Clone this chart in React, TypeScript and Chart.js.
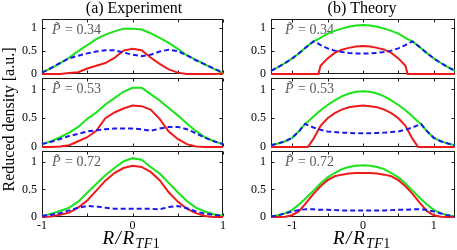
import React, { useEffect, useRef } from "react";
import { Chart, registerables } from "chart.js";

Chart.register(...registerables);

const FONT = '"Liberation Serif", "Times New Roman", serif';

// ---------- Experiment (x = R/R_TF1) ----------
const X_EXP = [-1, -0.9, -0.8, -0.7, -0.6, -0.5, -0.4, -0.3, -0.2, -0.1, 0, 0.1, 0.2, 0.3, 0.4, 0.5, 0.6, 0.7, 0.8, 0.9, 1];

const EXP_034_TOTAL = [0.03, 0.13, 0.23, 0.36, 0.5, 0.63, 0.76, 0.86, 0.93, 0.99, 0.99, 0.97, 0.89, 0.79, 0.68, 0.55, 0.41, 0.31, 0.21, 0.11, 0.02];
const EXP_034_INNER = [0, 0, 0, 0.02, 0.04, 0.12, 0.18, 0.24, 0.35, 0.51, 0.55, 0.52, 0.36, 0.22, 0.1, 0.03, 0, 0, 0, 0, 0.01];
const EXP_034_OUTER = [0.03, 0.13, 0.24, 0.34, 0.4, 0.45, 0.49, 0.52, 0.52, 0.47, 0.42, 0.39, 0.42, 0.49, 0.53, 0.5, 0.41, 0.3, 0.21, 0.12, 0.03];

const EXP_053_TOTAL = [0.05, 0.1, 0.17, 0.25, 0.35, 0.49, 0.6, 0.74, 0.85, 0.96, 1.03, 1.03, 0.92, 0.81, 0.68, 0.55, 0.41, 0.28, 0.17, 0.1, 0.05];
const EXP_053_INNER = [0, 0, 0.01, 0.03, 0.1, 0.17, 0.28, 0.5, 0.6, 0.67, 0.72, 0.71, 0.65, 0.49, 0.27, 0.14, 0.05, 0.01, 0, 0, 0];
const EXP_053_OUTER = [0.05, 0.09, 0.14, 0.19, 0.23, 0.27, 0.29, 0.31, 0.32, 0.32, 0.32, 0.31, 0.28, 0.32, 0.35, 0.35, 0.31, 0.24, 0.16, 0.1, 0.05];

const EXP_072_TOTAL = [0.02, 0.06, 0.11, 0.17, 0.28, 0.44, 0.6, 0.76, 0.89, 1.01, 1.07, 1.04, 0.91, 0.79, 0.62, 0.45, 0.29, 0.17, 0.1, 0.05, 0.02];
const EXP_072_INNER = [0, 0.01, 0.04, 0.08, 0.17, 0.3, 0.48, 0.66, 0.8, 0.89, 0.93, 0.91, 0.82, 0.67, 0.45, 0.28, 0.15, 0.07, 0.02, 0, 0];
const EXP_072_OUTER = [0.02, 0.04, 0.07, 0.12, 0.17, 0.2, 0.19, 0.17, 0.15, 0.15, 0.15, 0.15, 0.15, 0.14, 0.18, 0.2, 0.16, 0.1, 0.06, 0.04, 0.02];

// ---------- Theory ----------
const X_TH_034 = [-1.3, -1.2, -1.1, -1.0, -0.9, -0.8, -0.7, -0.63, -0.6, -0.5, -0.4, -0.3, -0.2, -0.1, 0, 0.1, 0.2, 0.3, 0.4, 0.5, 0.6, 0.63, 0.7, 0.8, 0.9, 1.0, 1.1, 1.2, 1.3];
const TH_034_TOTAL = [0.07, 0.15, 0.24, 0.34, 0.46, 0.59, 0.71, 0.76, 0.79, 0.88, 0.94, 0.99, 1.03, 1.06, 1.07, 1.06, 1.03, 0.99, 0.94, 0.88, 0.79, 0.76, 0.71, 0.59, 0.46, 0.34, 0.24, 0.15, 0.07];
const TH_034_INNER = [0, 0, 0, 0, 0, 0, 0, 0, 0.18, 0.34, 0.46, 0.53, 0.57, 0.6, 0.61, 0.6, 0.57, 0.53, 0.46, 0.34, 0.18, 0, 0, 0, 0, 0, 0, 0, 0];
const TH_034_OUTER = [0.07, 0.15, 0.24, 0.34, 0.46, 0.59, 0.71, 0.66, 0.63, 0.56, 0.51, 0.48, 0.46, 0.45, 0.45, 0.45, 0.46, 0.48, 0.51, 0.56, 0.63, 0.66, 0.71, 0.59, 0.46, 0.34, 0.24, 0.15, 0.07];

const X_TH_053 = [-1.3, -1.2, -1.1, -1.0, -0.9, -0.82, -0.78, -0.7, -0.6, -0.5, -0.4, -0.3, -0.2, -0.1, 0, 0.1, 0.2, 0.3, 0.4, 0.5, 0.6, 0.7, 0.78, 0.82, 0.9, 1.0, 1.1, 1.2, 1.3];
const TH_053_TOTAL = [0.03, 0.06, 0.1, 0.16, 0.28, 0.4, 0.44, 0.53, 0.64, 0.73, 0.81, 0.88, 0.93, 0.96, 0.97, 0.96, 0.93, 0.88, 0.81, 0.73, 0.64, 0.53, 0.44, 0.4, 0.28, 0.16, 0.1, 0.06, 0.03];
const TH_053_INNER = [0, 0, 0, 0, 0, 0, 0, 0.14, 0.37, 0.5, 0.59, 0.65, 0.69, 0.71, 0.72, 0.71, 0.69, 0.65, 0.59, 0.5, 0.37, 0.14, 0, 0, 0, 0, 0, 0, 0];
const TH_053_OUTER = [0.03, 0.06, 0.1, 0.16, 0.28, 0.4, 0.38, 0.34, 0.3, 0.27, 0.26, 0.25, 0.245, 0.24, 0.24, 0.24, 0.245, 0.25, 0.26, 0.27, 0.3, 0.34, 0.38, 0.4, 0.28, 0.16, 0.1, 0.06, 0.03];

const X_TH_072 = [-1.3, -1.2, -1.1, -1.0, -0.9, -0.8, -0.7, -0.6, -0.5, -0.4, -0.3, -0.2, -0.1, 0, 0.1, 0.2, 0.3, 0.4, 0.5, 0.6, 0.7, 0.8, 0.9, 1.0, 1.1, 1.2, 1.3];
const TH_072_TOTAL = [0.01, 0.03, 0.07, 0.13, 0.23, 0.35, 0.48, 0.61, 0.72, 0.8, 0.87, 0.91, 0.93, 0.94, 0.93, 0.91, 0.87, 0.8, 0.72, 0.61, 0.48, 0.35, 0.23, 0.13, 0.07, 0.03, 0.01];
const TH_072_INNER = [0, 0, 0.005, 0.03, 0.11, 0.26, 0.42, 0.56, 0.67, 0.74, 0.77, 0.79, 0.8, 0.8, 0.8, 0.79, 0.77, 0.74, 0.67, 0.56, 0.42, 0.26, 0.11, 0.03, 0.005, 0, 0];
const TH_072_OUTER = [0.01, 0.03, 0.065, 0.1, 0.13, 0.14, 0.14, 0.13, 0.13, 0.125, 0.12, 0.12, 0.12, 0.12, 0.12, 0.12, 0.12, 0.125, 0.13, 0.13, 0.14, 0.14, 0.13, 0.1, 0.065, 0.03, 0.01];

// ---------- Ticks & labels ----------
const Y_TICKS = [0, 0.5, 1];
const Y_TICK_LABELS = ["0", "0.5", "1"];
const X_TICKS = [-1, -0.5, 0, 0.5, 1];
const X_TICK_LABELS = ["-1", "", "0", "", "1"];
const P_VALUES = ["0.34", "0.53", "0.72"];
const COLUMN_TITLES = ["(a) Experiment", "(b) Theory"];
const Y_TITLE = "Reduced density [a.u.]";
const X_TITLE_MAIN = ["R", "/", "R"];
const X_TITLE_SUB = ["T", "F", "1"];

const COLORS = { total: "#18e418", inner: "#ee1a1a", outer: "#1818f0" };

// layout (pixel geometry of plot areas)
const COLS = [
  { left: 42, width: 181, xMin: -1, xMax: 1, labelDx: 10, titleX: 134 },
  { left: 271, width: 184, xMin: -1.3, xMax: 1.3, labelDx: 14, titleX: 362 },
];
const ROWS = [
  { top: 19, height: 55 },
  { top: 78, height: 69 },
  { top: 151, height: 66 },
];
const YW = 40;
const PAD_T = 4;
const PAD_R = 3;

const SERIES = [
  [
    { xs: X_EXP, total: EXP_034_TOTAL, inner: EXP_034_INNER, outer: EXP_034_OUTER },
    { xs: X_EXP, total: EXP_053_TOTAL, inner: EXP_053_INNER, outer: EXP_053_OUTER },
    { xs: X_EXP, total: EXP_072_TOTAL, inner: EXP_072_INNER, outer: EXP_072_OUTER },
  ],
  [
    { xs: X_TH_034, total: TH_034_TOTAL, inner: TH_034_INNER, outer: TH_034_OUTER },
    { xs: X_TH_053, total: TH_053_TOTAL, inner: TH_053_INNER, outer: TH_053_OUTER },
    { xs: X_TH_072, total: TH_072_TOTAL, inner: TH_072_INNER, outer: TH_072_OUTER },
  ],
];

type Panel = {
  col: number;
  row: number;
  cx: number;
  cy: number;
  cw: number;
  ch: number;
  xh: number;
};

const PANELS: Panel[] = [];
for (let c = 0; c < 2; c++) {
  for (let r = 0; r < 3; r++) {
    const xh = r === 2 ? 22 : 9;
    PANELS.push({
      col: c,
      row: r,
      cx: COLS[c].left - YW,
      cy: ROWS[r].top - PAD_T,
      cw: YW + COLS[c].width + PAD_R,
      ch: PAD_T + ROWS[r].height + xh,
      xh,
    });
  }
}

const labelOf = (ticks: number[], labels: string[], v: number) => {
  const i = ticks.findIndex((t) => Math.abs(t - v) < 1e-9);
  return i >= 0 ? labels[i] : "";
};

const framePlugin = {
  id: "frameTicks",
  beforeDatasetsDraw(chart: any, _args: any, opts: any) {
    const { ctx, chartArea: a, scales } = chart;
    const L = Math.round(a.left) + 0.5;
    const R = Math.round(a.right) - 0.5;
    const T = Math.round(a.top) + 0.5;
    const B = Math.round(a.bottom) - 0.5;
    ctx.save();
    ctx.strokeStyle = "#1a1a1a";
    ctx.lineWidth = 1;
    ctx.strokeRect(L, T, R - L, B - T);
    const tl = 3;
    ctx.beginPath();
    for (const t of scales.x.ticks) {
      const px = Math.round(scales.x.getPixelForValue(t.value)) + 0.5;
      ctx.moveTo(px, B);
      ctx.lineTo(px, B - tl);
      ctx.moveTo(px, T);
      ctx.lineTo(px, T + tl);
    }
    for (const t of scales.y.ticks) {
      const py = Math.round(scales.y.getPixelForValue(t.value)) + 0.5;
      ctx.moveTo(L, py);
      ctx.lineTo(L + tl, py);
      ctx.moveTo(R, py);
      ctx.lineTo(R - tl, py);
    }
    ctx.stroke();
    // P~ label
    ctx.fillStyle = "#5a5a5a";
    ctx.textBaseline = "alphabetic";
    ctx.textAlign = "left";
    const x0 = a.left + opts.dx;
    const y0 = a.top + 15;
    ctx.font = `italic 14px ${FONT}`;
    ctx.fillText("P\u0303", x0, y0);
    const w = ctx.measureText("P").width;
    ctx.font = `14px ${FONT}`;
    ctx.fillText(" = " + opts.p, x0 + w + 1, y0);
    ctx.restore();
  },
};

function buildConfig(p: Panel): any {
  const col = COLS[p.col];
  const s = SERIES[p.col][p.row];
  const pts = (arr: number[]) => s.xs.map((x, i) => ({ x, y: arr[i] }));
  const bottom = p.row === 2;
  const common = { pointRadius: 0, borderWidth: 2, tension: 0, fill: false, clip: false };
  return {
    type: "line",
    data: {
      datasets: [
        { ...common, label: "outer", data: pts(s.outer), borderColor: COLORS.outer, borderDash: [5, 3] },
        { ...common, label: "inner", data: pts(s.inner), borderColor: COLORS.inner },
        { ...common, label: "total", data: pts(s.total), borderColor: COLORS.total },
      ],
    },
    options: {
      animation: false,
      responsive: false,
      devicePixelRatio: 1,
      layout: { padding: { top: PAD_T, right: PAD_R, left: 0, bottom: 0 } },
      plugins: {
        legend: { display: false },
        tooltip: { enabled: false },
        title: { display: false },
        frameTicks: { dx: col.labelDx, p: P_VALUES[p.row] },
      },
      scales: {
        x: {
          type: "linear",
          min: col.xMin,
          max: col.xMax,
          grid: { display: false, drawTicks: false },
          border: { display: false },
          afterBuildTicks: (sc: any) => {
            sc.ticks = X_TICKS.map((v) => ({ value: v }));
          },
          ticks: {
            display: bottom,
            autoSkip: false,
            maxRotation: 0,
            padding: 2,
            color: "#000",
            font: { family: FONT, size: 12 },
            callback: (v: number) => labelOf(X_TICKS, X_TICK_LABELS, v),
          },
          afterFit: (sc: any) => {
            sc.height = p.xh;
            sc.paddingLeft = 0;
            sc.paddingRight = 0;
          },
        },
        y: {
          type: "linear",
          min: 0,
          max: 1.2,
          grid: { display: false, drawTicks: false },
          border: { display: false },
          afterBuildTicks: (sc: any) => {
            sc.ticks = Y_TICKS.map((v) => ({ value: v }));
          },
          ticks: {
            padding: 5,
            color: "#000",
            font: { family: FONT, size: 12 },
            callback: (v: number) => labelOf(Y_TICKS, Y_TICK_LABELS, v),
          },
          afterFit: (sc: any) => {
            sc.width = YW;
            sc.paddingTop = 0;
            sc.paddingBottom = 0;
          },
        },
      },
    },
    plugins: [framePlugin],
  };
}

function drawOverlay(cv: HTMLCanvasElement) {
  const ctx = cv.getContext("2d");
  if (!ctx) return;
  ctx.clearRect(0, 0, cv.width, cv.height);
  ctx.fillStyle = "#000";
  ctx.textBaseline = "alphabetic";
  ctx.textAlign = "center";
  ctx.font = `16px ${FONT}`;
  COLUMN_TITLES.forEach((t, i) => ctx.fillText(t, COLS[i].titleX, 13));

  ctx.save();
  ctx.translate(14, 119.5);
  ctx.rotate(-Math.PI / 2);
  ctx.font = `16px ${FONT}`;
  ctx.fillText(Y_TITLE, 0, 0);
  ctx.restore();

  // x-axis titles R/R_TF1 (math-style spacing)
  ctx.textAlign = "left";
  const mainFont = `italic 19px ${FONT}`;
  const subFont = (i: number) => (i === 2 ? `14px ${FONT}` : `italic 14px ${FONT}`);
  COLS.forEach((c) => {
    let x = c.left + c.width / 2 - 30;
    ctx.font = mainFont;
    X_TITLE_MAIN.forEach((ch) => {
      ctx.fillText(ch, x, 243.5);
      x += ctx.measureText(ch).width + 1.5;
    });
    X_TITLE_SUB.forEach((ch, i) => {
      ctx.font = subFont(i);
      ctx.fillText(ch, x, 247.5);
      x += ctx.measureText(ch).width + 0.5;
    });
  });
}

export default function App() {
  const overlayRef = useRef<HTMLCanvasElement | null>(null);
  const refs = useRef<(HTMLCanvasElement | null)[]>([]);

  useEffect(() => {
    const charts = PANELS.map((p, i) => new Chart(refs.current[i] as HTMLCanvasElement, buildConfig(p)));
    if (overlayRef.current) drawOverlay(overlayRef.current);
    return () => {
      charts.forEach((c) => c.destroy());
    };
  }, []);

  return (
    <div style={{ position: "absolute", left: 0, top: 0, width: 457, height: 250, background: "#fff", overflow: "hidden" }}>
      <canvas ref={overlayRef} width={457} height={250} style={{ position: "absolute", left: 0, top: 0 }} />
      {PANELS.map((p, i) => (
        <canvas
          key={i}
          ref={(el) => {
            refs.current[i] = el;
          }}
          width={p.cw}
          height={p.ch}
          style={{ position: "absolute", left: p.cx, top: p.cy, width: p.cw, height: p.ch }}
        />
      ))}
    </div>
  );
}
